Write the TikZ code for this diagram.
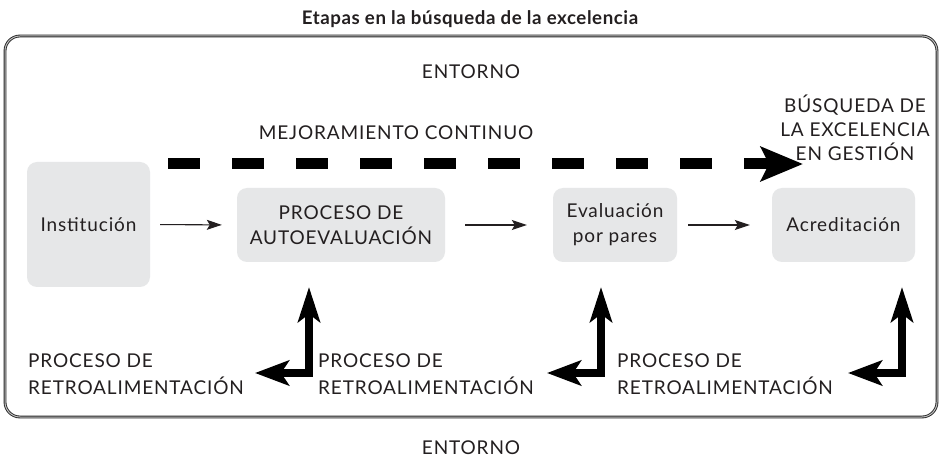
\documentclass[tikz,border=0pt]{standalone}
\usepackage{fontspec}
\setmainfont{Lato}[LetterSpace=4.5]
\newfontfamily\titlefont{Lato}[LetterSpace=3]
\usetikzlibrary{arrows.meta}
\definecolor{boxc}{HTML}{E6E7E8}
\definecolor{txtc}{HTML}{231F20}
\begin{document}
\begin{tikzpicture}[x=1pt,y=-1pt,
  txt/.style={font=\fontsize{19}{27}\selectfont, text=txtc, inner sep=0pt, align=center},
  stage/.style={txt, fill=boxc, rounded corners=10pt, font=\fontsize{19}{25}\selectfont},
  thinarr/.style={draw=txtc, line width=1.1pt, -{Stealth[length=15pt,width=10pt,inset=3pt]}},
  fback/.style={draw=black, line width=7.5pt, line join=miter,
     {Stealth[length=34pt,width=25pt,inset=8pt]}-{Stealth[length=35pt,width=22pt,inset=8pt]}},
  improve/.style={draw=black, line width=11pt, dash pattern=on 32pt off 32pt,
     -{Stealth[length=42pt,width=34pt,inset=8pt]}},
  frame/.style={draw=black!85, line width=0.9pt, double=gray!50, double distance=1pt, rounded corners=15pt}
]
\useasboundingbox (0,0) rectangle (943,462);
\fill[white] (0,0) rectangle (943,462);

\node[txt, font=\titlefont\bfseries\fontsize{18.7}{20}\selectfont] (title) at (470,19) {Etapas en la búsqueda de la excelencia};
\draw[frame] (5,36) rectangle (937,417);

\node[txt] (env1) at (471,72) {ENTORNO};
\node[txt] (env2) at (471,448) {ENTORNO};
\node[txt, font=\fontsize{19}{24}\selectfont] (goal) at (855,128) {BÚSQUEDA DE\\LA EXCELENCIA\\EN GESTIÓN};
\node[txt] (mejora) at (396,133) {MEJORAMIENTO CONTINUO};

\coordinate (ds) at (168,164);
\coordinate (de) at (803,164);
\draw[improve] (ds) -- (de);

\node[stage, minimum width=123pt, minimum height=125pt] (inst) at (88.5,224.5) {Institución};
\node[stage, minimum width=208pt, minimum height=74pt] (auto) at (341,225) {PROCESO DE\\AUTOEVALUACIÓN};
\node[stage, minimum width=124pt, minimum height=74pt] (eval) at (615,225) {Evaluación\\por pares};
\node[stage, minimum width=143pt, minimum height=74pt] (acred) at (843.5,225) {Acreditación};

\draw[thinarr, shorten <=10pt, shorten >=15pt] (inst.east) -- (auto.west);
\draw[thinarr, shorten <=20pt, shorten >=26pt] (auto.east) -- (eval.west);
\draw[thinarr, shorten <=11pt, shorten >=22pt] (eval.east) -- (acred.west);

\coordinate (l1) at (255,373); \coordinate (u1) at (309,287);
\coordinate (l2) at (547,373); \coordinate (u2) at (601,287);
\coordinate (l3) at (848,373); \coordinate (u3) at (902,287);
\draw[fback] (l1) -| (u1);
\draw[fback] (l2) -| (u2);
\draw[fback] (l3) -| (u3);

\node[txt, align=left, anchor=west] (fb1) at (28,374) {PROCESO DE\\RETROALIMENTACIÓN};
\node[txt, align=left, anchor=west] (fb2) at (318,374) {PROCESO DE\\RETROALIMENTACIÓN};
\node[txt, align=left, anchor=west] (fb3) at (617,374) {PROCESO DE\\RETROALIMENTACIÓN};
\end{tikzpicture}
\end{document}
